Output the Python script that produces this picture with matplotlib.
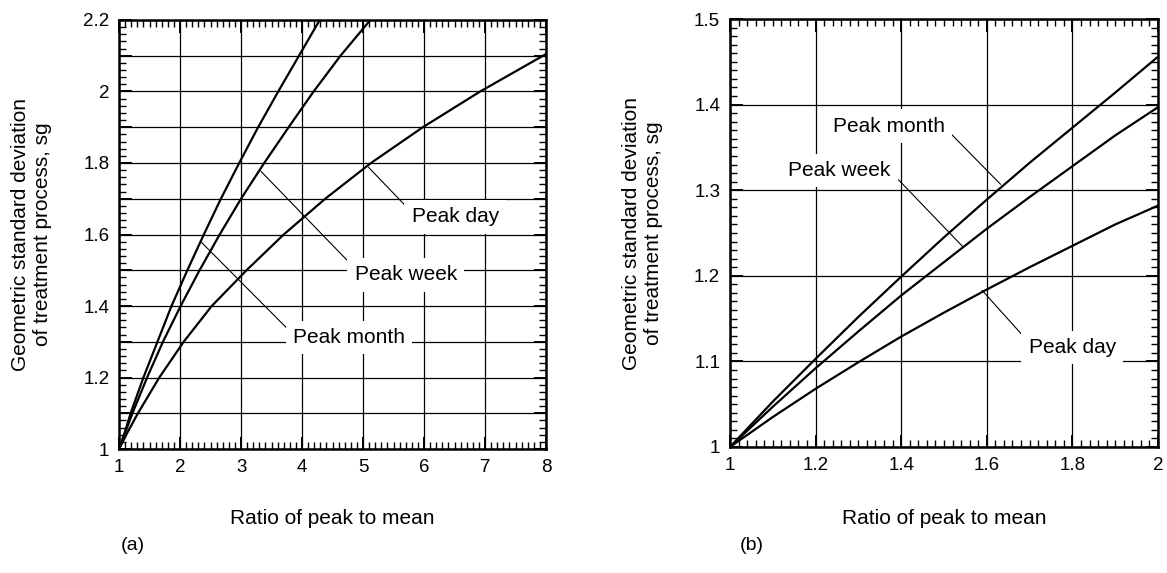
"""
Geometric standard deviation of a treatment process vs. ratio of peak to mean,
panel (a) for ratios up to 8 and panel (b) zoomed into ratios 1-2.
"""
import matplotlib
matplotlib.use("Agg")
import matplotlib.pyplot as plt
from matplotlib.ticker import MultipleLocator, FuncFormatter

plt.rcParams["font.family"] = ["Liberation Sans", "DejaVu Sans"]

# ---- panel (a): x (ratio of peak to mean) read at each sg level ----
sg_a = [1.0, 1.05, 1.1, 1.2, 1.3, 1.4, 1.5, 1.6, 1.7, 1.8, 1.9, 2.0, 2.1, 2.2]
month_a = [1.0, 1.10, 1.19, 1.40, 1.63, 1.86, 2.12, 2.39, 2.67, 2.97, 3.28, 3.61, 3.95, 4.29]
week_a = [1.0, 1.11, 1.22, 1.46, 1.72, 2.01, 2.32, 2.65, 3.00, 3.38, 3.78, 4.19, 4.63, 5.12]
sg_day_a = [1.0, 1.05, 1.1, 1.2, 1.3, 1.4, 1.5, 1.6, 1.7, 1.8, 1.9, 2.0, 2.1, 2.105]
day_a = [1.0, 1.15, 1.31, 1.66, 2.06, 2.52, 3.09, 3.70, 4.38, 5.13, 5.98, 6.92, 7.95, 8.0]

# ---- panel (b): sg read at each ratio ----
ratio_b = [1.0, 1.1, 1.2, 1.3, 1.4, 1.5, 1.6, 1.7, 1.8, 1.9, 2.0]
month_b = [1.0, 1.053, 1.103, 1.152, 1.199, 1.245, 1.289, 1.332, 1.373, 1.414, 1.456]
week_b = [1.0, 1.047, 1.092, 1.135, 1.177, 1.216, 1.255, 1.292, 1.328, 1.364, 1.397]
day_b = [1.0, 1.035, 1.068, 1.099, 1.129, 1.157, 1.184, 1.210, 1.235, 1.260, 1.282]

YLABEL = "Geometric standard deviation\nof treatment process, sg"
XLABEL = "Ratio of peak to mean"

fig = plt.figure(figsize=(11.67, 5.73), dpi=100)
ax1 = fig.add_axes([0.102, 0.2164, 0.3659, 0.7487])
ax2 = fig.add_axes([0.6255, 0.2199, 0.3668, 0.7469])

fmt = FuncFormatter(lambda v, p: f"{v:g}")


def style(ax):
    ax.set_axisbelow(True)
    ax.grid(True, which="major", color="black", lw=0.9)
    for s in ax.spines.values():
        s.set_linewidth(1.8)
    ax.tick_params(which="both", direction="in", top=True, right=True,
                   labelsize=13.5, pad=7)
    ax.tick_params(which="major", length=9, width=1.4)
    ax.tick_params(which="minor", length=5, width=1.0)
    ax.xaxis.set_major_formatter(fmt)


lab = dict(fontsize=15, ha="center", va="center", zorder=6,
           bbox=dict(boxstyle="square,pad=0.35", fc="white", ec="none"))
lead = dict(color="black", lw=0.8, zorder=4)

# ---- (a) ----
style(ax1)
ax1.plot(month_a, sg_a, color="black", lw=1.6, zorder=3)
ax1.plot(week_a, sg_a, color="black", lw=1.6, zorder=3)
ax1.plot(day_a, sg_day_a, color="black", lw=1.6, zorder=3)
ax1.set_xlim(1, 8)
ax1.set_ylim(1, 2.2)
ax1.xaxis.set_major_locator(MultipleLocator(1))
ax1.xaxis.set_minor_locator(MultipleLocator(0.1))
ax1.yaxis.set_major_locator(MultipleLocator(0.1))
ax1.yaxis.set_minor_locator(MultipleLocator(0.02))
ax1.yaxis.set_major_formatter(FuncFormatter(
    lambda v, p: f"{v:g}" if round(v * 10) % 2 == 0 else ""))

ax1.plot([5.09, 5.72], [1.788, 1.676], **lead)
ax1.text(6.51, 1.649, "Peak day", **lab)
ax1.plot([3.33, 4.79], [1.776, 1.519], **lead)
ax1.text(5.70, 1.487, "Peak week", **lab)
ax1.plot([2.34, 3.78], [1.58, 1.333], **lead)
ax1.text(4.77, 1.312, "Peak month", **lab)

# ---- (b) ----
style(ax2)
ax2.plot(ratio_b, month_b, color="black", lw=1.6, zorder=3)
ax2.plot(ratio_b, week_b, color="black", lw=1.6, zorder=3)
ax2.plot(ratio_b, day_b, color="black", lw=1.6, zorder=3)
ax2.set_xlim(1, 2)
ax2.set_ylim(1, 1.5)
ax2.xaxis.set_major_locator(MultipleLocator(0.2))
ax2.xaxis.set_minor_locator(MultipleLocator(0.02))
ax2.yaxis.set_major_locator(MultipleLocator(0.1))
ax2.yaxis.set_minor_locator(MultipleLocator(0.01))
ax2.yaxis.set_major_formatter(fmt)

ax2.plot([1.518, 1.632], [1.365, 1.307], **lead)
ax2.text(1.371, 1.375, "Peak month", **lab)
ax2.plot([1.394, 1.544], [1.312, 1.234], **lead)
ax2.text(1.255, 1.323, "Peak week", **lab)
ax2.plot([1.688, 1.589], [1.128, 1.183], **lead)
ax2.text(1.80, 1.116, "Peak day", **lab)

# axis titles and panel letters
for xc, yl, xl in [(31.5, 234.5, 332.5), (642.5, 233.0, 944.0)]:
    fig.text(xc / 1167, 1 - yl / 573, YLABEL, rotation=90, fontsize=15,
             ha="center", va="center", multialignment="center")
    fig.text(xl / 1167, 1 - 519 / 573, XLABEL, fontsize=15,
             ha="center", va="center")
fig.text(133 / 1167, 1 - 546 / 573, "(a)", fontsize=14, ha="center", va="center")
fig.text(752 / 1167, 1 - 546 / 573, "(b)", fontsize=14, ha="center", va="center")

fig.savefig("out.png", dpi=100)
